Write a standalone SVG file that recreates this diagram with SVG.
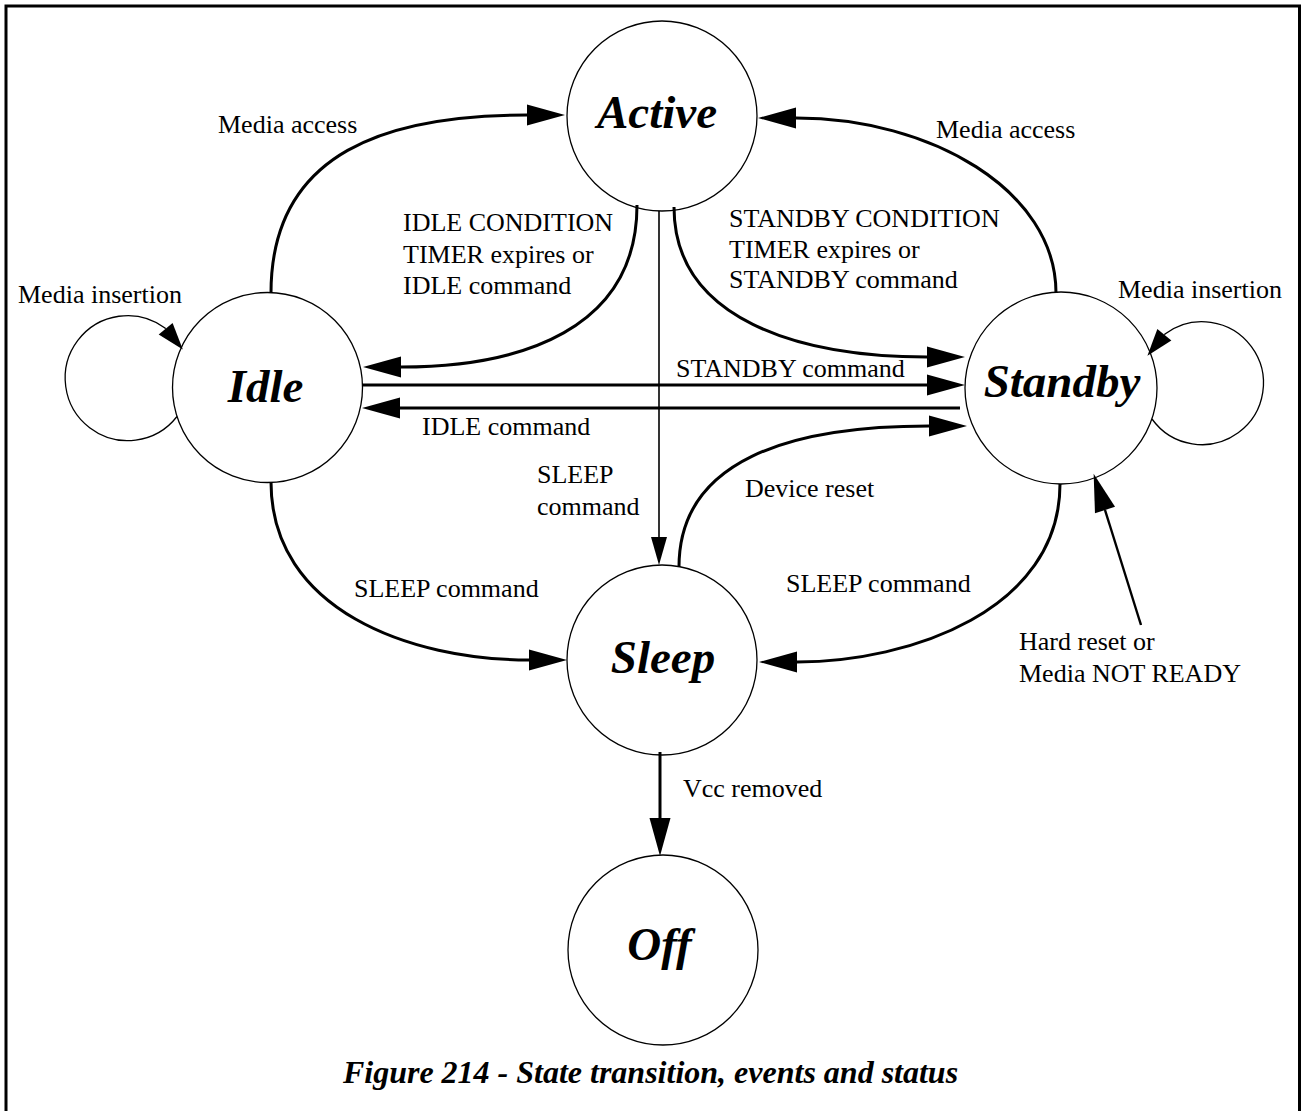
<svg xmlns="http://www.w3.org/2000/svg" width="1304" height="1111" viewBox="0 0 1304 1111">
<style>
.frame{fill:none;stroke:#000;stroke-width:3}
.node{fill:none;stroke:#000;stroke-width:1.3}
.nl{font-family:"Liberation Serif","Times New Roman",serif;font-weight:bold;font-style:italic;font-size:47px;text-anchor:middle;fill:#000}
.lbl{font-family:"Liberation Serif","Times New Roman",serif;font-size:26px;fill:#000}
.cap{font-family:"Liberation Serif","Times New Roman",serif;font-weight:bold;font-style:italic;font-size:32px;text-anchor:middle;fill:#000}
.c{fill:none;stroke:#000;stroke-width:3;marker-end:url(#ah)}
.thin{fill:none;stroke:#000;stroke-width:1.6;marker-end:url(#ahs)}
.loop{fill:none;stroke:#000;stroke-width:1.3;marker-end:url(#ahl)}
.hr{fill:none;stroke:#000;stroke-width:2.4;marker-end:url(#ah)}
</style>
<defs>
<marker id="ah" markerUnits="userSpaceOnUse" viewBox="-1 -12 40 24" markerWidth="40" markerHeight="24" refX="0" refY="0" orient="auto"><path d="M0,-10.5 L38,0 L0,10.5 z" fill="#000"/></marker>
<marker id="ahs" markerUnits="userSpaceOnUse" viewBox="-1 -10 30 20" markerWidth="30" markerHeight="20" refX="0" refY="0" orient="auto"><path d="M0,-8 L28,0 L0,8 z" fill="#000"/></marker>
<marker id="ahl" markerUnits="userSpaceOnUse" viewBox="-1 -11 29 22" markerWidth="29" markerHeight="22" refX="0" refY="0" orient="auto"><path d="M0,-9 L27,0 L0,9 z" fill="#000"/></marker>
</defs>
<rect class="frame" x="6" y="6" width="1293.5" height="1115"/>
<g id="connectors">
<path class="c" d="M271,293 C271,150 390,115 527,115"/>
<path class="c" d="M637,205 C637,330 520,367 401,367"/>
<path class="c" d="M674,207 C674,320 800,357 927,357"/>
<path class="c" d="M1056,293 C1056,190 930,118 796,118"/>
<path class="c" d="M362,385 L927,385"/>
<path class="c" d="M960,408 L400,408"/>
<path class="thin" d="M659,211 L659,537"/>
<path class="c" d="M679,567 C679,460 790,426 929,426"/>
<path class="c" d="M1060,484 C1060,610 910,662 797,662"/>
<path class="c" d="M271,482 C271,610 410,660 529,660"/>
<path class="c" d="M660,752 L660,818"/>
<path class="hr" d="M1141,625 L1105,510"/>
<path class="loop" d="M177,416.5 A62.5,62.5 0 1 1 165,328 l0.636,0.77"/>
<path class="loop" d="M1152,419 A61.5,61.5 0 1 0 1165,334 l-0.63,0.78"/>
</g>
<g id="labels">
<text class="lbl" x="218" y="133">Media access</text>
<text class="lbl" x="936" y="138">Media access</text>
<text class="lbl" x="18" y="303">Media insertion</text>
<text class="lbl" x="1118" y="298">Media insertion</text>
<text class="lbl" x="403" y="231">IDLE CONDITION</text>
<text class="lbl" x="403" y="263">TIMER expires or</text>
<text class="lbl" x="403" y="294">IDLE command</text>
<text class="lbl" x="729" y="227">STANDBY CONDITION</text>
<text class="lbl" x="729" y="258">TIMER expires or</text>
<text class="lbl" x="729" y="288">STANDBY command</text>
<text class="lbl" x="676" y="377">STANDBY command</text>
<text class="lbl" x="422" y="435">IDLE command</text>
<text class="lbl" x="537" y="483">SLEEP</text>
<text class="lbl" x="537" y="515">command</text>
<text class="lbl" x="745" y="497">Device reset</text>
<text class="lbl" x="354" y="597">SLEEP command</text>
<text class="lbl" x="786" y="592">SLEEP command</text>
<text class="lbl" x="1019" y="650">Hard reset or</text>
<text class="lbl" x="1019" y="682">Media NOT READY</text>
<text class="lbl" x="683" y="797">Vcc removed</text>
</g>
<g id="active"><circle class="node" cx="662" cy="116" r="95"/><text class="nl" x="657" y="128">Active</text></g>
<g id="idle"><circle class="node" cx="267.5" cy="387.5" r="95"/><text class="nl" x="265.5" y="402">Idle</text></g>
<g id="standby"><circle class="node" cx="1061" cy="388" r="96"/><text class="nl" x="1062" y="397">Standby</text></g>
<g id="sleep"><circle class="node" cx="662" cy="660" r="95"/><text class="nl" x="663" y="673">Sleep</text></g>
<g id="off"><circle class="node" cx="663" cy="950" r="95"/><text class="nl" x="659.5" y="960">Off</text></g>
<text class="cap" x="650.5" y="1083">Figure 214 - State transition, events and status</text>
</svg>
